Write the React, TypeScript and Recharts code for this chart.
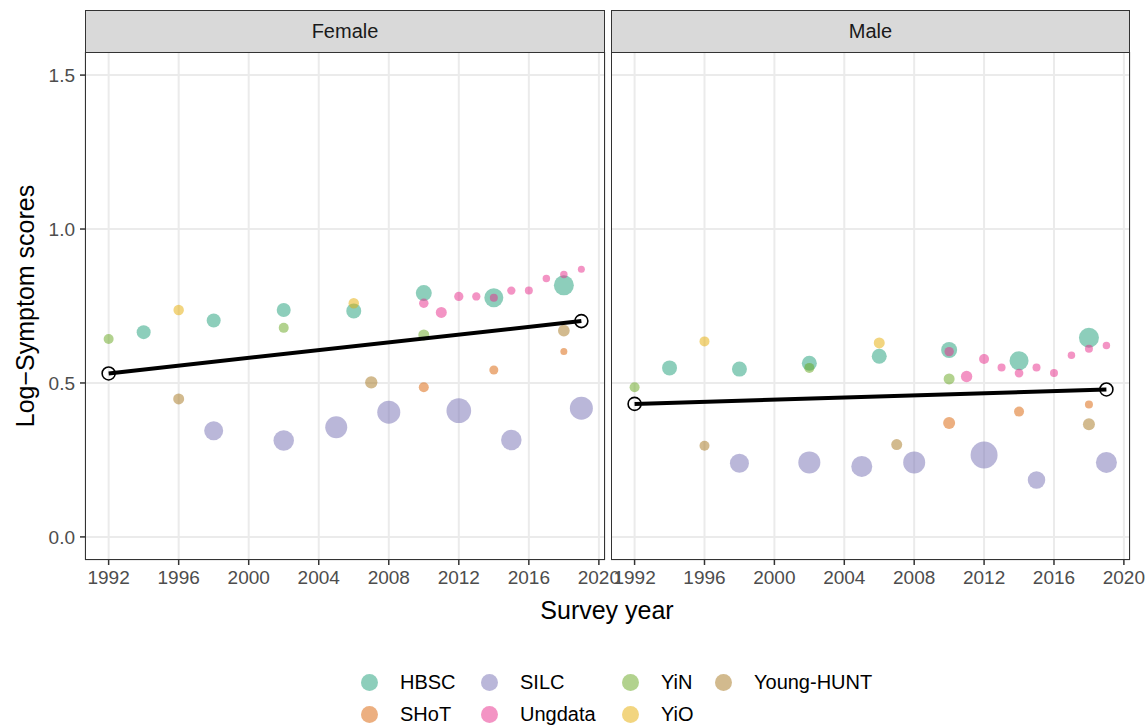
import { ScatterChart, Scatter, XAxis, YAxis, CartesianGrid } from "recharts";

// survey points: year, mean log-symptom score, n (relative sample size, drives dot area)
const femaleHBSC = [
  { year: 1994, score: 0.665, n: 196 },
  { year: 1998, score: 0.703, n: 196 },
  { year: 2002, score: 0.737, n: 196 },
  { year: 2006, score: 0.734, n: 225 },
  { year: 2010, score: 0.792, n: 256 },
  { year: 2014, score: 0.777, n: 361 },
  { year: 2018, score: 0.817, n: 400 },
];
const femaleSHoT = [
  { year: 2010, score: 0.486, n: 100 },
  { year: 2014, score: 0.542, n: 81 },
  { year: 2018, score: 0.602, n: 49 },
];
const femaleSILC = [
  { year: 1998, score: 0.345, n: 361 },
  { year: 2002, score: 0.313, n: 420 },
  { year: 2005, score: 0.356, n: 484 },
  { year: 2008, score: 0.405, n: 529 },
  { year: 2012, score: 0.41, n: 610 },
  { year: 2015, score: 0.315, n: 420 },
  { year: 2019, score: 0.418, n: 529 },
];
const femaleUngdata = [
  { year: 2010, score: 0.759, n: 90 },
  { year: 2011, score: 0.729, n: 121 },
  { year: 2012, score: 0.781, n: 86 },
  { year: 2013, score: 0.781, n: 69 },
  { year: 2014, score: 0.777, n: 64 },
  { year: 2015, score: 0.8, n: 69 },
  { year: 2016, score: 0.8, n: 64 },
  { year: 2017, score: 0.839, n: 56 },
  { year: 2018, score: 0.852, n: 56 },
  { year: 2019, score: 0.869, n: 49 },
];
const femaleYiN = [
  { year: 1992, score: 0.643, n: 100 },
  { year: 2002, score: 0.679, n: 100 },
  { year: 2010, score: 0.656, n: 121 },
];
const femaleYiO = [
  { year: 1996, score: 0.737, n: 110 },
  { year: 2006, score: 0.759, n: 110 },
];
const femaleYoungHUNT = [
  { year: 1996, score: 0.448, n: 121 },
  { year: 2007, score: 0.502, n: 151 },
  { year: 2018, score: 0.67, n: 137 },
];
const femaleTrend = [
  { year: 1992, score: 0.531 },
  { year: 2019, score: 0.701 },
];

const maleHBSC = [
  { year: 1994, score: 0.549, n: 225 },
  { year: 1998, score: 0.545, n: 225 },
  { year: 2002, score: 0.564, n: 225 },
  { year: 2006, score: 0.587, n: 225 },
  { year: 2010, score: 0.607, n: 256 },
  { year: 2014, score: 0.572, n: 361 },
  { year: 2018, score: 0.647, n: 400 },
];
const maleSHoT = [
  { year: 2010, score: 0.37, n: 144 },
  { year: 2014, score: 0.407, n: 100 },
  { year: 2018, score: 0.43, n: 64 },
];
const maleSILC = [
  { year: 1998, score: 0.239, n: 361 },
  { year: 2002, score: 0.242, n: 484 },
  { year: 2005, score: 0.229, n: 441 },
  { year: 2008, score: 0.242, n: 484 },
  { year: 2012, score: 0.266, n: 729 },
  { year: 2015, score: 0.185, n: 306 },
  { year: 2019, score: 0.242, n: 441 },
];
const maleUngdata = [
  { year: 2010, score: 0.602, n: 88 },
  { year: 2011, score: 0.521, n: 130 },
  { year: 2012, score: 0.578, n: 100 },
  { year: 2013, score: 0.55, n: 64 },
  { year: 2014, score: 0.532, n: 76 },
  { year: 2015, score: 0.55, n: 64 },
  { year: 2016, score: 0.532, n: 64 },
  { year: 2017, score: 0.59, n: 56 },
  { year: 2018, score: 0.611, n: 64 },
  { year: 2019, score: 0.622, n: 56 },
];
const maleYiN = [
  { year: 1992, score: 0.486, n: 100 },
  { year: 2002, score: 0.549, n: 100 },
  { year: 2010, score: 0.513, n: 121 },
];
const maleYiO = [
  { year: 1996, score: 0.635, n: 100 },
  { year: 2006, score: 0.63, n: 121 },
];
const maleYoungHUNT = [
  { year: 1996, score: 0.296, n: 100 },
  { year: 2007, score: 0.3, n: 121 },
  { year: 2018, score: 0.366, n: 144 },
];
const maleTrend = [
  { year: 1992, score: 0.432 },
  { year: 2019, score: 0.479 },
];

const yearTicks = [1992, 1996, 2000, 2004, 2008, 2012, 2016, 2020];
const scoreTicks = [0, 0.5, 1.0, 1.5];
const sources = ["HBSC", "SHoT", "SILC", "Ungdata", "YiN", "YiO", "Young-HUNT"];
const colors = ["#1B9E77", "#D95F02", "#7570B3", "#E7298A", "#66A61E", "#E6AB02", "#A6761D"];

const femaleSeries = [femaleHBSC, femaleSHoT, femaleSILC, femaleUngdata, femaleYiN, femaleYiO, femaleYoungHUNT];
const maleSeries = [maleHBSC, maleSHoT, maleSILC, maleUngdata, maleYiN, maleYiO, maleYoungHUNT];

const FONT = "'Liberation Sans', Arial, Helvetica, sans-serif";
const PLOT_TOP = 52;
const PLOT_BOTTOM = 560;
const EXTRA = 24; // room to the right so the last tick label is not clipped

const dot = (color: string) => (props: any) => (
  <circle
    cx={props.cx}
    cy={props.cy}
    r={Math.sqrt(props.payload.n) / 2}
    fill={color}
    fillOpacity={0.5}
  />
);

const openCircle = (props: any) => (
  <circle cx={props.cx} cy={props.cy} r={6.5} fill="none" stroke="#000" strokeWidth={1.6} />
);

function Panel({
  title,
  series,
  trend,
  left,
  width,
  showY,
}: {
  title: string;
  series: any[][];
  trend: any[];
  left: number;
  width: number;
  showY: boolean;
}) {
  const yw = showY ? 85 : 0;
  return (
    <>
      <div style={{ position: "absolute", left, top: 0 }}>
        <ScatterChart
          width={width + EXTRA}
          height={600}
          margin={{ top: PLOT_TOP, right: 1 + EXTRA, bottom: 0, left: 0 }}
        >
          <CartesianGrid stroke="#EBEBEB" strokeWidth={2} />
          <XAxis
            type="number"
            dataKey="year"
            domain={[1990.65, 2020.35]}
            ticks={yearTicks}
            allowDataOverflow
            axisLine={false}
            tickLine={{ stroke: "#333333", strokeWidth: 1.5 }}
            tickSize={5}
            tickMargin={6}
            height={40}
            interval={0}
            tick={{ fill: "#4D4D4D", fontSize: 19, fontFamily: FONT }}
          />
          <YAxis
            type="number"
            dataKey="score"
            domain={[-0.075, 1.575]}
            ticks={scoreTicks}
            allowDataOverflow
            hide={!showY}
            width={yw}
            axisLine={false}
            tickLine={{ stroke: "#333333", strokeWidth: 1.5 }}
            tickSize={5}
            tickMargin={5}
            interval={0}
            tickFormatter={(v: number) => v.toFixed(1)}
            tick={{ fill: "#4D4D4D", fontSize: 19, fontFamily: FONT }}
          />
          {series.map((d, i) => (
            <Scatter
              key={sources[i]}
              data={d}
              shape={dot(colors[i])}
              isAnimationActive={false}
            />
          ))}
          <Scatter
            data={trend}
            line={{ stroke: "#000", strokeWidth: 4 }}
            shape={openCircle}
            isAnimationActive={false}
          />
        </ScatterChart>
      </div>
      {/* panel border */}
      <div
        style={{
          position: "absolute",
          left: left + yw,
          top: PLOT_TOP,
          width: width - yw - 1,
          height: PLOT_BOTTOM - PLOT_TOP,
          border: "1.5px solid #333333",
          boxSizing: "border-box",
          pointerEvents: "none",
        }}
      />
      {/* facet strip */}
      <div
        style={{
          position: "absolute",
          left: left + yw,
          top: 10,
          width: width - yw - 1,
          height: PLOT_TOP - 10 + 1,
          background: "#D9D9D9",
          border: "1.5px solid #333333",
          boxSizing: "border-box",
          display: "flex",
          alignItems: "center",
          justifyContent: "center",
          fontSize: 20,
          color: "#1A1A1A",
          fontFamily: FONT,
        }}
      >
        {title}
      </div>
    </>
  );
}

export default function App() {
  const legendCols = [
    [0, 1],
    [2, 3],
    [4, 5],
    [6],
  ];
  const colX = [369, 489, 630, 723];
  return (
    <div
      style={{
        position: "absolute",
        left: 0,
        top: 0,
        width: 1146,
        height: 727,
        background: "#fff",
        fontFamily: FONT,
        overflow: "hidden",
      }}
    >
      <Panel title="Female" series={femaleSeries} trend={femaleTrend} left={0} width={606} showY />
      <Panel title="Male" series={maleSeries} trend={maleTrend} left={611} width={520} showY={false} />

      {/* axis titles */}
      <div
        style={{
          position: "absolute",
          left: 0,
          width: 1214,
          top: 596,
          textAlign: "center",
          fontSize: 25,
          color: "#000",
        }}
      >
        Survey year
      </div>
      <div
        style={{
          position: "absolute",
          left: 25,
          top: 306,
          transform: "translate(-50%, -50%) rotate(-90deg)",
          whiteSpace: "nowrap",
          fontSize: 25,
          color: "#000",
        }}
      >
        Log−Symptom scores
      </div>

      {/* legend */}
      {legendCols.map((col, ci) =>
        col.map((si, ri) => (
          <div key={sources[si]}>
            <div
              style={{
                position: "absolute",
                left: colX[ci] - 8.5,
                top: 682 + ri * 32 - 8.5,
                width: 17,
                height: 17,
                borderRadius: "50%",
                background: colors[si],
                opacity: 0.5,
              }}
            />
            <div
              style={{
                position: "absolute",
                left: colX[ci] + 31,
                top: 682 + ri * 32 - 12,
                lineHeight: "24px",
                fontSize: 20,
                color: "#000",
                whiteSpace: "nowrap",
              }}
            >
              {sources[si]}
            </div>
          </div>
        ))
      )}
    </div>
  );
}
